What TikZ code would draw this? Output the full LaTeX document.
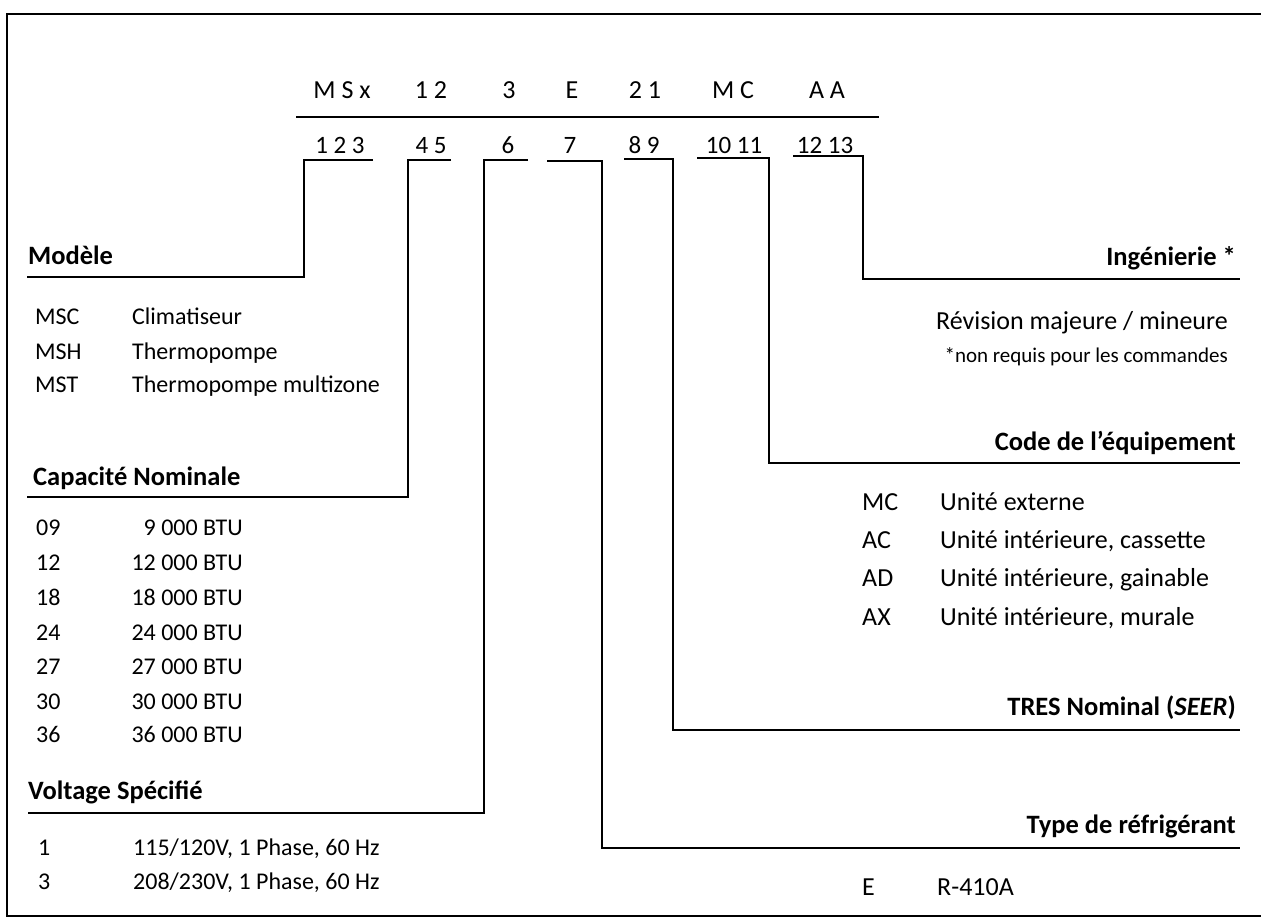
\documentclass[tikz,border=0pt]{standalone}
\usepackage{fontspec}
\setmainfont{Carlito}

\tikzset{
  codetxt/.style = {inner sep=0pt, anchor=base, font=\fontsize{26}{30}\selectfont},
  numtxt/.style = {inner sep=0pt, anchor=base, font=\fontsize{25}{30}\selectfont},
  headtxt/.style = {inner sep=0pt, font=\bfseries\fontsize{26.5}{30}\selectfont},
  lefttxt/.style = {inner sep=0pt, anchor=base west, font=\fontsize{24}{28}\selectfont},
  righttxt/.style = {inner sep=0pt, anchor=base west, font=\fontsize{26}{30}\selectfont},
  notetxt/.style = {inner sep=0pt, anchor=base east, font=\fontsize{21}{25}\selectfont},
  bracket/.style = {line width=1.8pt}
}

\begin{document}
\begin{tikzpicture}[x=1pt, y=-1pt]
	\useasboundingbox (0,0) rectangle (1261,918);
	\draw[line width=2pt] (1261,14) -- (7,14) -- (7,916) -- (1261,916);

	% code du modele
	\node[codetxt] (c1) at (342,98) {M S x};
	\node[codetxt] (c2) at (431,98) {1 2};
	\node[codetxt] (c3) at (509,98) {3};
	\node[codetxt] (c4) at (572,98) {E};
	\node[codetxt] (c5) at (645,98) {2 1};
	\node[codetxt] (c6) at (733,98) {M C};
	\node[codetxt] (c7) at (827,98) {A A};
	\coordinate (ll) at (296,117);
	\coordinate (lr) at (879,117);
	\draw[line width=2.4pt] (ll) -- (lr);

	\node[numtxt] (n1) at (340,153) {1 2 3};
	\node[numtxt] (n2) at (431,153) {4 5};
	\node[numtxt] (n3) at (508,153) {6};
	\node[numtxt] (n4) at (570,153) {7};
	\node[numtxt] (n5) at (644,153) {8 9};
	\node[numtxt] (n6) at (734,153) {10 11};
	\node[numtxt] (n7) at (825,153) {12 13};

	% rubriques de gauche
	\node[headtxt, anchor=base west] (h1) at (28,264) {Modèle};
	\node[headtxt, anchor=base west] (h2) at (33,485) {Capacité Nominale};
	\node[headtxt, anchor=base west] (h3) at (28,799) {Voltage Spécifié};

	\node[lefttxt] (msc) at (35,324) {MSC};
	\node[lefttxt] (msh) at (35,359) {MSH};
	\node[lefttxt] (mst) at (35,392) {MST};
	\node[lefttxt] (mscd) at (132,324) {Climatiseur};
	\node[lefttxt] (mshd) at (132,359) {Thermopompe};
	\node[lefttxt] (mstd) at (132,392) {Thermopompe multizone};

	\node[lefttxt] (k09) at (36,535) {09};
	\node[lefttxt] (k12) at (36,570) {12};
	\node[lefttxt] (k18) at (36,605) {18};
	\node[lefttxt] (k24) at (36,640) {24};
	\node[lefttxt] (k27) at (36,674) {27};
	\node[lefttxt] (k30) at (36,709) {30};
	\node[lefttxt] (k36) at (36,742) {36};
	\node[lefttxt, anchor=base east] (b09) at (243,535) {9 000 BTU};
	\node[lefttxt, anchor=base east] (b12) at (243,570) {12 000 BTU};
	\node[lefttxt, anchor=base east] (b18) at (243,605) {18 000 BTU};
	\node[lefttxt, anchor=base east] (b24) at (243,640) {24 000 BTU};
	\node[lefttxt, anchor=base east] (b27) at (243,674) {27 000 BTU};
	\node[lefttxt, anchor=base east] (b30) at (243,709) {30 000 BTU};
	\node[lefttxt, anchor=base east] (b36) at (243,742) {36 000 BTU};

	\node[lefttxt] (v1) at (38,855) {1};
	\node[lefttxt] (v3) at (38,889) {3};
	\node[lefttxt] (v1d) at (133,855) {115/120V, 1 Phase, 60 Hz};
	\node[lefttxt] (v3d) at (133,889) {208/230V, 1 Phase, 60 Hz};

	% rubriques de droite
	\node[headtxt, anchor=base east] (h7) at (1236,265) {Ingénierie *};
	\node[righttxt, anchor=base east] (rev) at (1228,329) {Révision majeure / mineure};
	\node[notetxt] (req) at (1228,362) {*non requis pour les commandes};

	\node[headtxt, anchor=base east] (h6) at (1236,450) {Code de l’équipement};
	\node[righttxt] (mc) at (862,510) {MC};
	\node[righttxt] (ac) at (862,548) {AC};
	\node[righttxt] (ad) at (862,586) {AD};
	\node[righttxt] (ax) at (862,625) {AX};
	\node[righttxt] (mcd) at (940,510) {Unité externe};
	\node[righttxt] (acd) at (940,548) {Unité intérieure, cassette};
	\node[righttxt] (add) at (940,586) {Unité intérieure, gainable};
	\node[righttxt] (axd) at (940,625) {Unité intérieure, murale};

	\node[headtxt, anchor=base east] (h5) at (1236,715) {TRES Nominal (\textit{SEER})};
	\node[headtxt, anchor=base east] (h4) at (1236,833) {Type de réfrigérant};
	\node[righttxt] (e) at (862,895) {E};
	\node[righttxt] (ed) at (937,895) {R-410A};

	% crochets
	\coordinate (t1) at (373,160); \coordinate (k1) at (304,160); \coordinate (u1) at (27,277);
	\coordinate (t2) at (451,160); \coordinate (k2) at (408,160); \coordinate (u2) at (27,497);
	\coordinate (t3) at (528,160); \coordinate (k3) at (484,160); \coordinate (u3) at (28,813);
	\coordinate (t4) at (547,161); \coordinate (k4) at (602,161); \coordinate (u4) at (1240,848);
	\coordinate (t5) at (624,159); \coordinate (k5) at (673,159); \coordinate (u5) at (1240,730);
	\coordinate (t6) at (697,158); \coordinate (k6) at (769,158); \coordinate (u6) at (1240,463);
	\coordinate (t7) at (793,156); \coordinate (k7) at (863,156); \coordinate (u7) at (1240,279);
	\draw[bracket] (t1) -- (k1) |- (u1);
	\draw[bracket] (t2) -- (k2) |- (u2);
	\draw[bracket] (t3) -- (k3) |- (u3);
	\draw[bracket] (t4) -- (k4) |- (u4);
	\draw[bracket] (t5) -- (k5) |- (u5);
	\draw[bracket] (t6) -- (k6) |- (u6);
	\draw[bracket] (t7) -- (k7) |- (u7);
\end{tikzpicture}
\end{document}
